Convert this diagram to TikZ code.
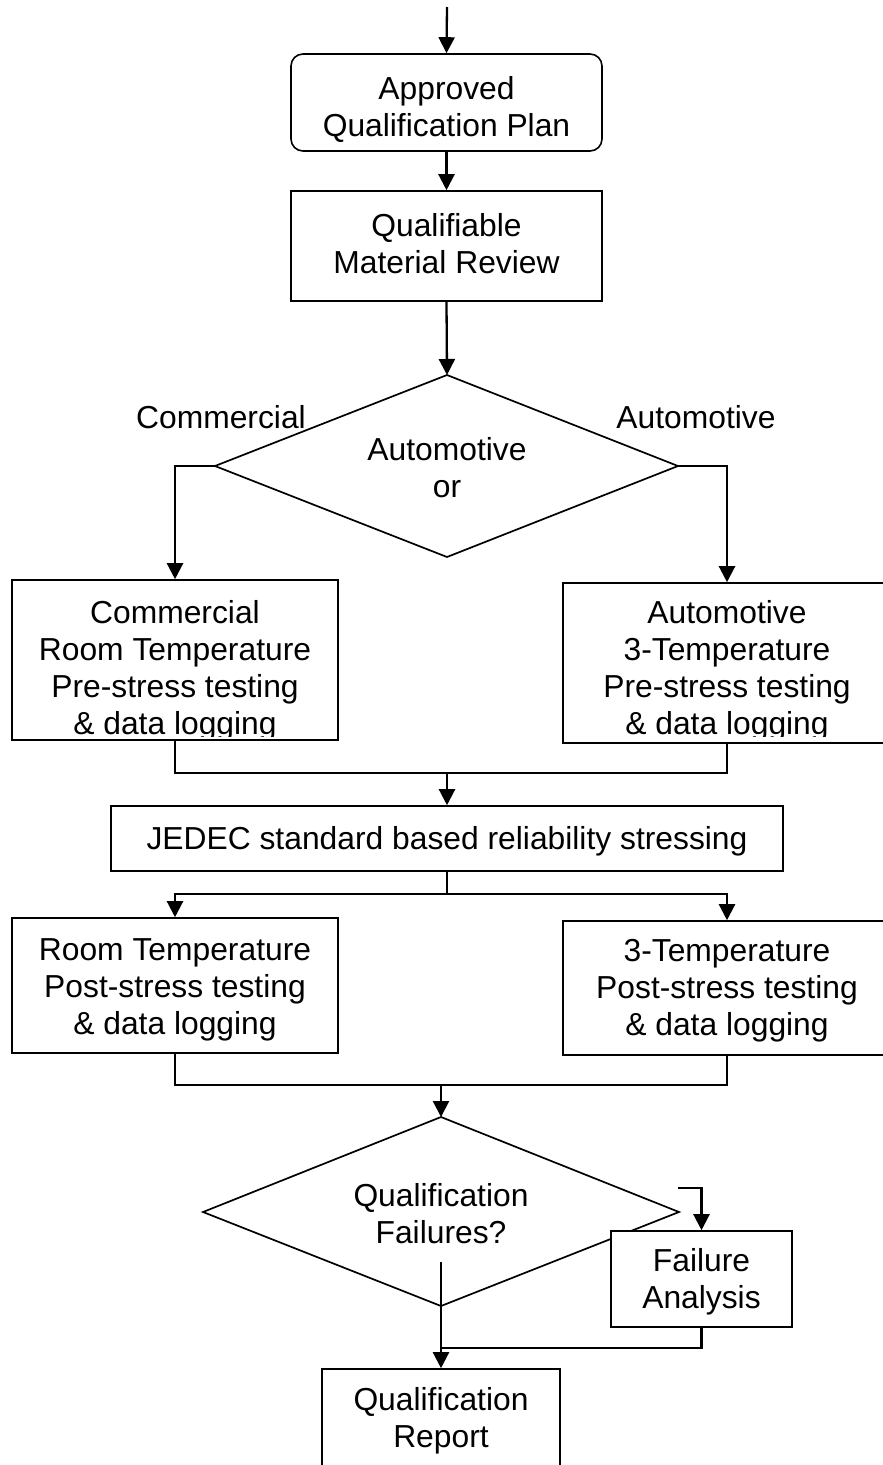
\documentclass[tikz,border=0pt]{standalone}
\usepackage{fontspec}
\setmainfont{Liberation Sans}
\usetikzlibrary{arrows.meta,calc}
\begin{document}
\begin{tikzpicture}[x=1pt,y=-1pt,
  boxst/.style={draw,line width=1.6pt,fill=white,inner sep=0pt},
  txt/.style={align=center,inner sep=0pt,font=\fontsize{31.8}{37}\selectfont},
  conn/.style={line width=2.3pt},
  arr/.style={conn,-{Triangle[length=16pt,width=16pt]}},
  dia/.style={line width=1.7pt,line join=miter}]
\clip (0,0) rectangle (883,1465);
\fill[white] (0,0) rectangle (883,1465);

% boxes
\node[boxst,rounded corners=12pt,minimum width=311pt,minimum height=97pt] (plan) at (446.5,102.5) {};
\node[txt] (plantxt) at (446.5,109) {Approved\\Qualification Plan};
\node[boxst,minimum width=311pt,minimum height=110pt] (review) at (446.5,246) {};
\node[txt] (reviewtxt) at (446.5,244) {Qualifiable\\Material Review};

% decision 1
\coordinate (d1t) at (447,375);
\coordinate (d1l) at (215,466);
\coordinate (d1r) at (678,466);
\coordinate (d1b) at (447,557);
\draw[dia] (d1t) -- (d1r) -- (d1b) -- (d1l) -- cycle;
\node[txt] (d1txt) at (447,468) {Automotive\\or};
\node[txt] (lblc) at (221,417) {Commercial};
\node[txt] (lbla) at (696,417) {Automotive};

% pre-stress boxes (last line clipped as in the original)
\node[boxst,minimum width=326pt,minimum height=160pt] (comm) at (175,660) {};
\begin{scope}
\clip (13,581) rectangle (337,736);
\node[txt] (commtxt) at (175,671) {Commercial\\Room Temperature\\Pre-stress testing\\\& data logging};
\end{scope}
\node[boxst,minimum width=328pt,minimum height=160pt] (auto) at (727,663) {};
\begin{scope}
\clip (564,584) rectangle (891,736);
\node[txt] (autotxt) at (727,671) {Automotive\\3-Temperature\\Pre-stress testing\\\& data logging};
\end{scope}

% JEDEC
\node[boxst,minimum width=672pt,minimum height=65pt] (jedec) at (447,838.5) {};
\node[txt] (jedectxt) at (447,841) {JEDEC standard based reliability stressing};

% post-stress boxes
\node[boxst,minimum width=326pt,minimum height=135pt] (rt) at (175,985.5) {};
\node[txt] (rttxt) at (175,990) {Room Temperature\\Post-stress testing\\\& data logging};
\node[boxst,minimum width=328pt,minimum height=134pt] (t3) at (727,988) {};
\node[txt] (t3txt) at (727,991) {3-Temperature\\Post-stress testing\\\& data logging};

% decision 2
\coordinate (d2t) at (441,1117);
\coordinate (d2l) at (203,1212);
\coordinate (d2r) at (679,1212);
\coordinate (d2b) at (441,1306);
\draw[dia] (d2t) -- (d2r) -- (d2b) -- (d2l) -- cycle;
\node[txt] (d2txt) at (441,1214) {Qualification\\Failures?};

% failure analysis
\node[boxst,minimum width=181pt,minimum height=96pt] (fa) at (701.5,1279) {};
\node[txt] (fatxt) at (701.5,1282) {Failure\\Analysis};

% report
\node[boxst,minimum width=238pt,minimum height=130pt] (report) at (441,1434) {};
\node[txt] (reporttxt) at (441,1421) {Qualification\\Report};

% connectors
\coordinate (start) at (447,7);
\draw[arr] (start) -- (plan.north);
\draw[arr] (plan.south) -- (review.north);
\draw[arr] (review.south) -- (d1t);
\draw[arr] (d1l) -| (comm.north);
\draw[arr] (d1r) -| (auto.north);
\coordinate (m1) at (447,773);
\draw[conn] (comm.south) |- (m1);
\draw[conn] (auto.south) |- (m1);
\draw[arr] (m1) -- (jedec.north);
\coordinate (m2) at (447,894);
\draw[conn] (jedec.south) -- (m2);
\draw[arr] (m2) -| (rt.north);
\draw[arr] (m2) -| (t3.north);
\coordinate (m3) at (441,1085);
\draw[conn] (rt.south) |- (m3);
\draw[conn] (t3.south) |- (m3);
\draw[arr] (m3) -- (d2t);
\coordinate (q) at (441,1262);
\draw[arr] (q) -- (report.north);
\coordinate (hook) at (678,1188);
\draw[arr] (hook) -| (fa.north);
\coordinate (m4) at (441,1348);
\draw[conn] (fa.south) |- (m4);
\end{tikzpicture}
\end{document}
